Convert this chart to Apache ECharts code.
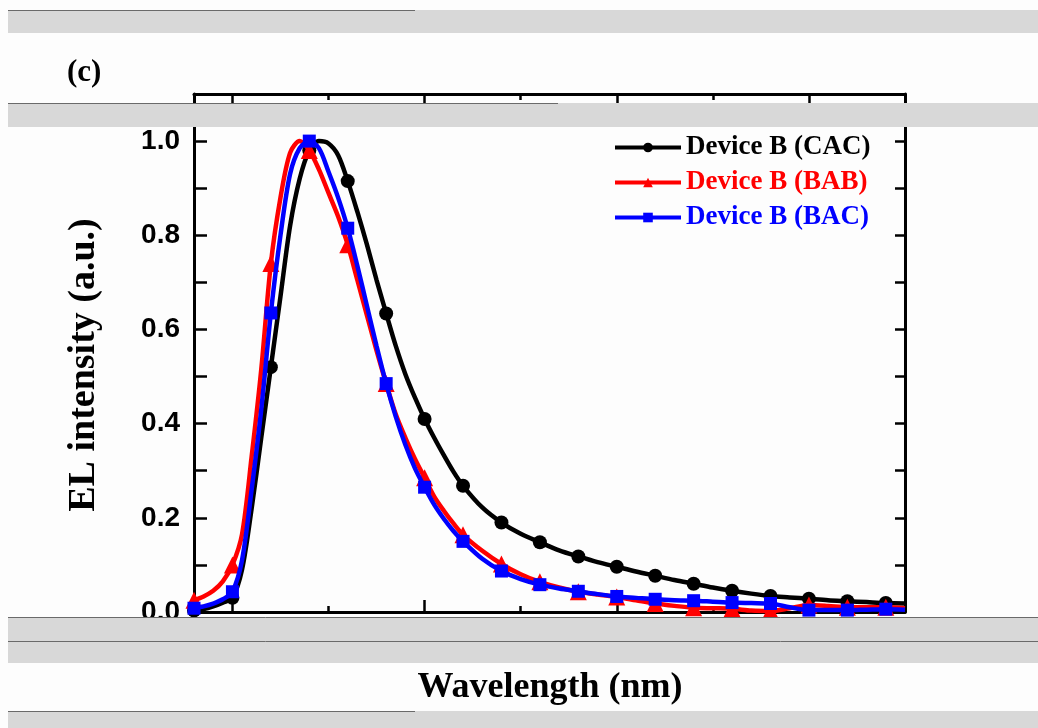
<!DOCTYPE html>
<html>
<head>
<meta charset="utf-8">
<title>EL spectra</title>
<script src="https://cdn.jsdelivr.net/npm/echarts@6/dist/echarts.min.js"></script>
<style>
  html, body { margin: 0; padding: 0; background: #fdfdfd; }
  #chart { width: 1038px; height: 728px; }
</style>
</head>
<body>
<div id="chart"></div>
<script>
// Wavelength grid (nm): 5 nm steps across the emission peak, 10 nm in the tail
const wavelengths = [380, 385, 390, 395, 400, 405, 410, 415, 420, 425, 430, 435, 440, 445, 450,
  455, 460, 465, 470, 475, 480, 485, 490, 495, 500, 505, 510, 515, 520,
  530, 540, 550, 560, 570, 580, 590, 600, 610, 620, 630, 640, 650, 660, 670, 680,
  690, 700, 710, 720, 730, 740, 750];

// Normalised EL intensity for each device
const deviceCAC = [0.003, 0.006, 0.012, 0.02, 0.03, 0.09, 0.22, 0.37, 0.52, 0.67, 0.82, 0.92, 0.98, 1.0, 0.995,
  0.97, 0.915, 0.85, 0.78, 0.705, 0.634, 0.565, 0.505, 0.455, 0.41, 0.37, 0.333, 0.298, 0.268,
  0.222, 0.19, 0.166, 0.148, 0.131, 0.118, 0.106, 0.096, 0.086, 0.077, 0.068, 0.06, 0.052, 0.045, 0.039, 0.034,
  0.031, 0.028, 0.025, 0.023, 0.021, 0.019, 0.018];

const deviceBAB = [0.025, 0.033, 0.045, 0.065, 0.1, 0.165, 0.33, 0.515, 0.74, 0.88, 0.975, 1.0, 0.98, 0.94, 0.89,
  0.84, 0.78, 0.705, 0.63, 0.555, 0.485, 0.42, 0.37, 0.325, 0.285, 0.245, 0.215, 0.188, 0.164,
  0.13, 0.102, 0.08, 0.064, 0.052, 0.043, 0.037, 0.032, 0.025, 0.018, 0.013, 0.009, 0.008, 0.007, 0.003, 0.002,
  0.008, 0.015, 0.013, 0.01, 0.01, 0.01, 0.008];

const deviceBAC = [0.008, 0.012, 0.018, 0.027, 0.043, 0.11, 0.26, 0.43, 0.635, 0.8, 0.93, 0.985, 1.0, 0.985, 0.935,
  0.88, 0.815, 0.735, 0.65, 0.565, 0.485, 0.415, 0.355, 0.305, 0.265, 0.228, 0.198, 0.172, 0.15,
  0.113, 0.087, 0.07, 0.058, 0.05, 0.044, 0.038, 0.033, 0.03, 0.027, 0.025, 0.024, 0.022, 0.02, 0.019, 0.018,
  0.01, 0.004, 0.004, 0.004, 0.005, 0.006, 0.005];

const seriesNames = ['Device B (CAC)', 'Device B (BAB)', 'Device B (BAC)'];
const seriesColors = ['#000000', '#ff0000', '#0000ff'];
const seriesSymbols = ['circle', 'triangle', 'rect'];
const seriesSymbolSizes = [14, 17, 13];

// Axis ticks on the wavelength axis
const xMajorTicks = [400, 500, 600, 700];
const xMinorTicks = [450, 550, 650, 750];

// A marker is placed every 20 nm; the points in between only shape the curve
function toData(values) {
  return wavelengths.map(function (w, i) {
    const item = { value: [w, values[i]] };
    if (w % 20 !== 0) item.symbol = 'none';
    return item;
  });
}

const serif = '"Liberation Serif", "Times New Roman", serif';
const sans = '"Liberation Sans", Arial, sans-serif';

function xAxisDef(position, ticks, len, withLine) {
  return {
    type: 'value', position: position, min: 380, max: 750, interval: 10,
    axisLine: { show: withLine, onZero: false, lineStyle: { color: '#000', width: 3 } },
    axisTick: { show: true, inside: true, length: len, customValues: ticks, lineStyle: { color: '#000', width: 2.5 } },
    axisLabel: { show: false },
    splitLine: { show: false }
  };
}

function yAxisDef(position, showLabels, len) {
  return {
    type: 'value', position: position, min: 0, max: 1.1, interval: 0.1,
    axisLine: { show: true, onZero: false, lineStyle: { color: '#000', width: 3 } },
    axisTick: { show: true, inside: true, length: len, lineStyle: { color: '#000', width: 2.5 } },
    axisLabel: {
      show: showLabels, margin: 14, color: '#000', fontFamily: sans, fontWeight: 'bold', fontSize: 28,
      formatter: function (v) {
        const k = Math.round(v * 10);
        return (k % 2 === 0 && k <= 10) ? (k / 10).toFixed(1) : '';
      }
    },
    splitLine: { show: false }
  };
}

const chart = echarts.init(document.getElementById('chart'), null, { renderer: 'canvas' });

const bandColor = '#d8d8d8';
const edgeColor = '#6a6a6a';

chart.setOption({
  backgroundColor: '#fdfdfd',
  animation: false,
  grid: { left: 194, right: 133, top: 94, bottom: 116, containLabel: false },
  xAxis: [
    xAxisDef('bottom', xMajorTicks, 12, true),
    xAxisDef('bottom', xMinorTicks, 6, false),
    xAxisDef('top', xMajorTicks, 12, true),
    xAxisDef('top', xMinorTicks, 6, false)
  ],
  yAxis: [
    yAxisDef('left', true, 13),
    yAxisDef('right', false, 10)
  ],
  legend: {
    orient: 'vertical', left: 608, top: 129,
    itemWidth: 66, itemHeight: 12, itemGap: 8,
    lineStyle: { width: 4 },
    textStyle: { fontFamily: serif, fontWeight: 'bold', fontSize: 27, lineHeight: 27 },
    data: seriesNames.map(function (n, i) {
      return { name: n, textStyle: { color: seriesColors[i] } };
    })
  },
  series: [deviceCAC, deviceBAB, deviceBAC].map(function (vals, i) {
    return {
      name: seriesNames[i], type: 'line', xAxisIndex: 0, yAxisIndex: 0,
      data: toData(vals),
      smooth: 0.3, showAllSymbol: true,
      symbol: seriesSymbols[i], symbolSize: seriesSymbolSizes[i],
      lineStyle: { color: seriesColors[i], width: 4.5 },
      itemStyle: { color: seriesColors[i] },
      z: 2 + i
    };
  }),
  graphic: [
    { type: 'text', left: 67, top: 57, style: { text: '(c)', fontFamily: serif, fontWeight: 'bold', fontSize: 31, fill: '#000' } },
    { type: 'text', x: 84, y: 365, rotation: Math.PI / 2,
      style: { text: 'EL intensity (a.u.)', fontFamily: serif, fontWeight: 'bold', fontSize: 38, fill: '#000', align: 'center', verticalAlign: 'middle' } },
    { type: 'text', x: 550, y: 688,
      style: { text: 'Wavelength (nm)', fontFamily: serif, fontWeight: 'bold', fontSize: 36, fill: '#000', align: 'center', verticalAlign: 'middle' } },
    // grey scan bands crossing the page
    { type: 'rect', z: 100, shape: { x: 8, y: 10, width: 1030, height: 23 }, style: { fill: bandColor } },
    { type: 'rect', z: 100, shape: { x: 8, y: 103, width: 1030, height: 24 }, style: { fill: bandColor } },
    { type: 'rect', z: 100, shape: { x: 8, y: 617, width: 1030, height: 46 }, style: { fill: bandColor } },
    { type: 'rect', z: 100, shape: { x: 8, y: 711, width: 1030, height: 17 }, style: { fill: bandColor } },
    { type: 'line', z: 101, shape: { x1: 8, y1: 10.5, x2: 415, y2: 10.5 }, style: { stroke: edgeColor, lineWidth: 1 } },
    { type: 'line', z: 101, shape: { x1: 8, y1: 103.5, x2: 558, y2: 103.5 }, style: { stroke: edgeColor, lineWidth: 1 } },
    { type: 'line', z: 101, shape: { x1: 8, y1: 617.5, x2: 1038, y2: 617.5 }, style: { stroke: edgeColor, lineWidth: 1 } },
    { type: 'line', z: 101, shape: { x1: 8, y1: 641.5, x2: 1038, y2: 641.5 }, style: { stroke: edgeColor, lineWidth: 1 } },
    { type: 'line', z: 101, shape: { x1: 8, y1: 711.5, x2: 415, y2: 711.5 }, style: { stroke: edgeColor, lineWidth: 1 } }
  ]
});
</script>
</body>
</html>
